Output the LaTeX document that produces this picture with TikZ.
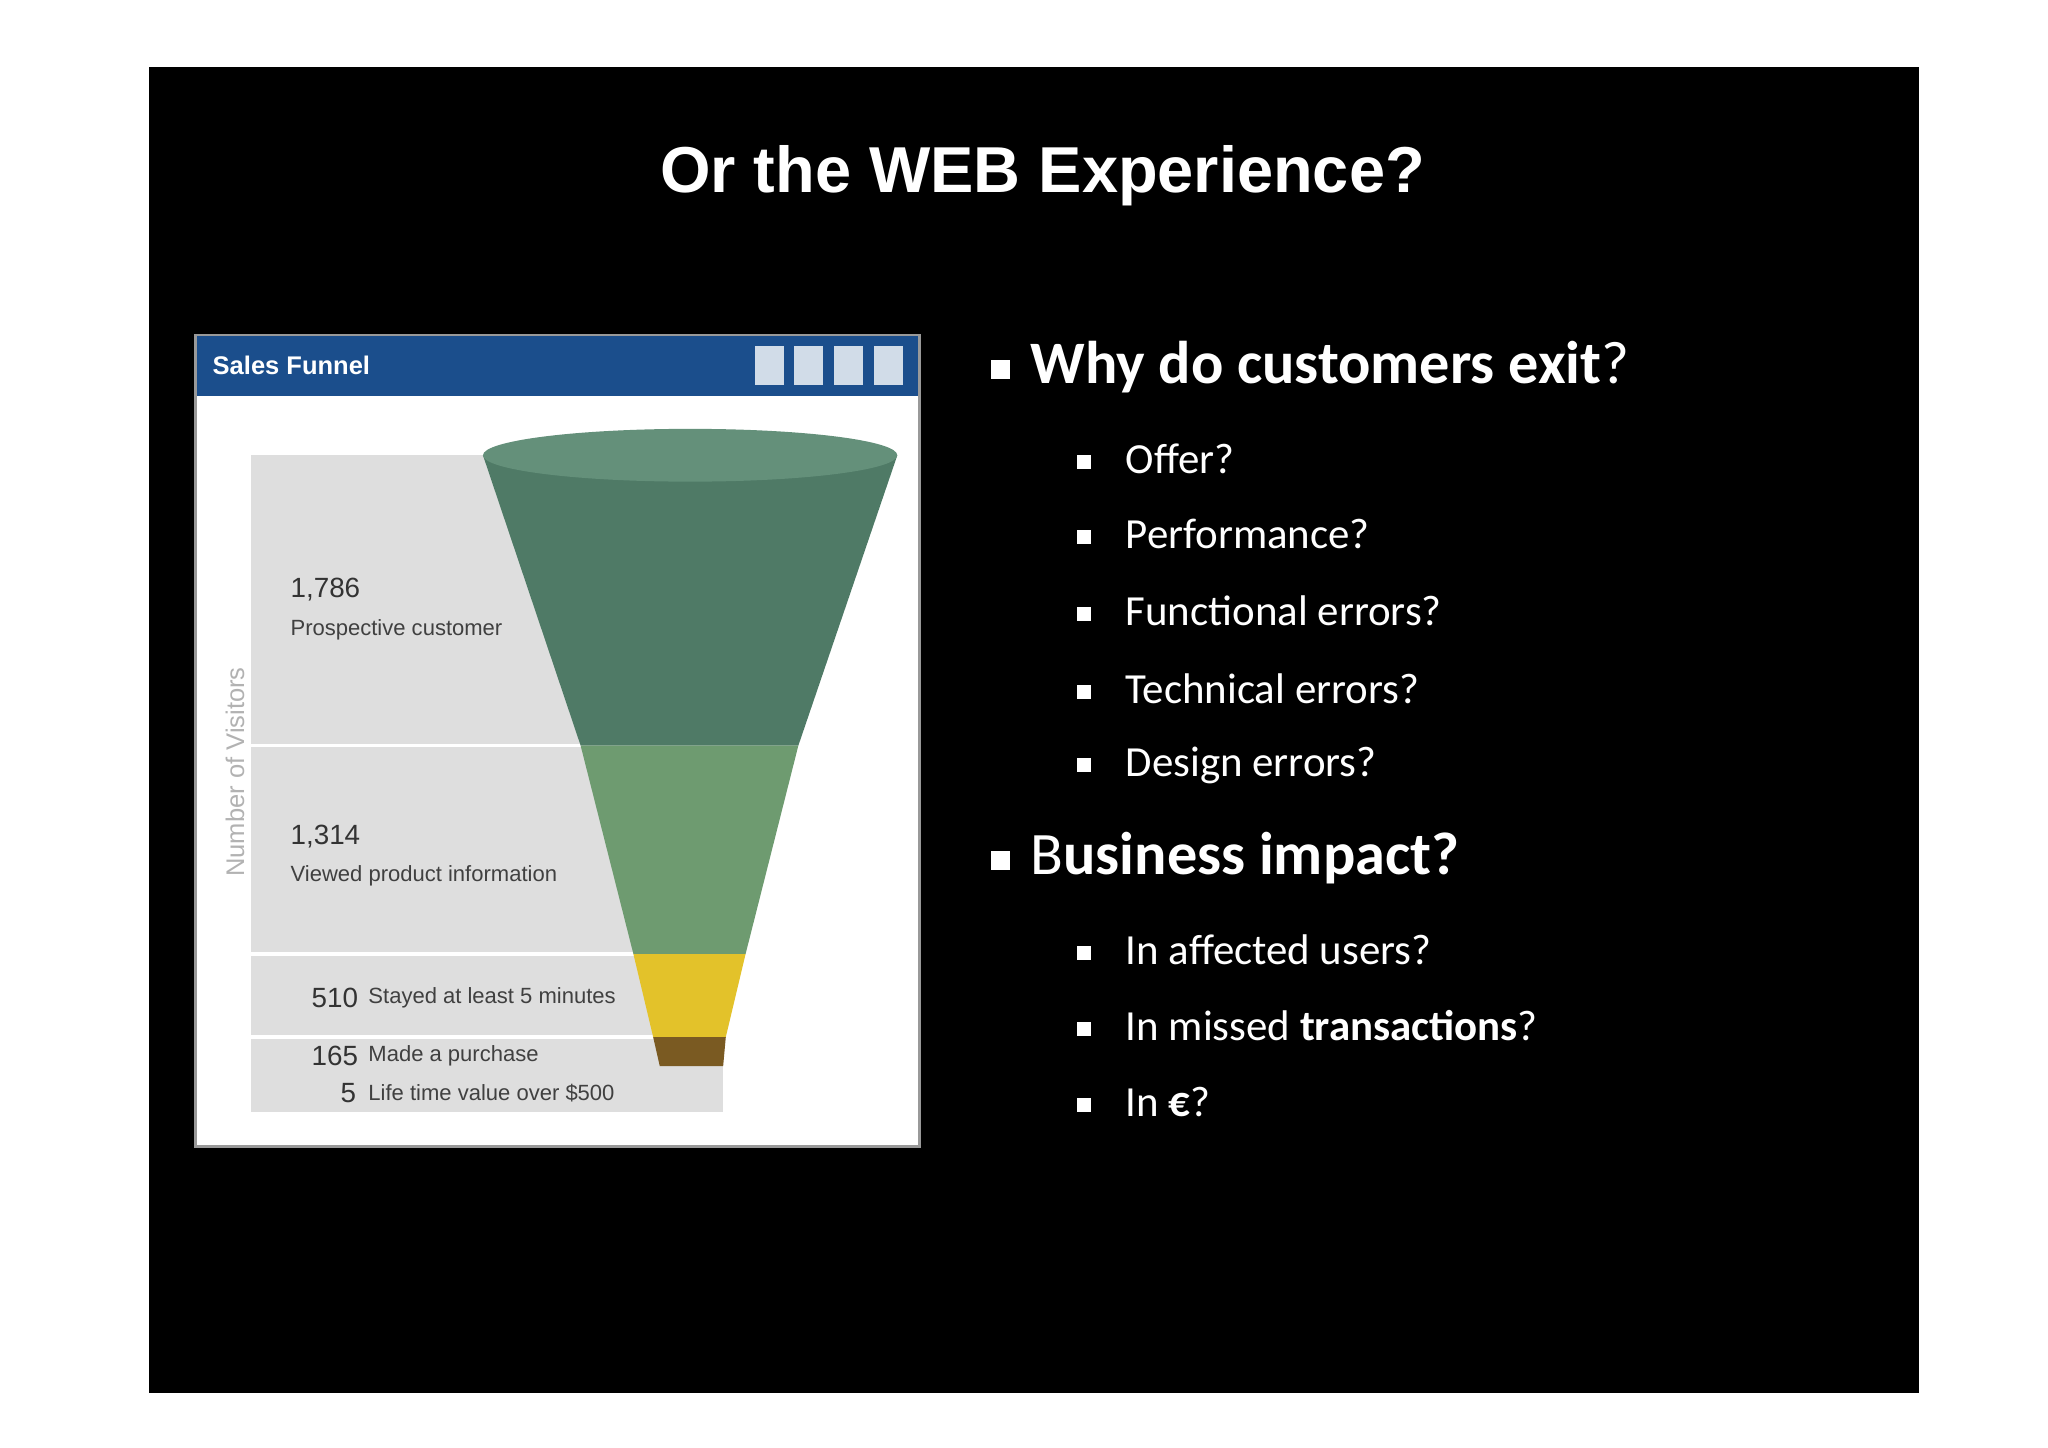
\documentclass[tikz,border=0pt]{standalone}
\usepackage{fontspec}
\setmainfont{Carlito}
\newfontfamily\arial{Liberation Sans}
\definecolor{hdrblue}{HTML}{1B4E8C}
\definecolor{ftop}{HTML}{4F7A66}
\definecolor{fell}{HTML}{64907A}
\definecolor{fmid}{HTML}{6E9B70}
\definecolor{fyel}{HTML}{E3C22A}
\definecolor{fbrn}{HTML}{7A5A22}
\begin{document}
\begin{tikzpicture}[x=0.02cm,y=-0.02cm,
  bul/.style={anchor=west,text=white,font=\fontsize{26}{30}\selectfont},
  sbul/.style={anchor=west,text=white,font=\fontsize{18.5}{22}\selectfont},
  lab/.style={anchor=west,text=black!75,font=\arial\fontsize{9.5}{11}\selectfont},
  num/.style={anchor=west,text=black!80,font=\arial\fontsize{12}{14}\selectfont}]
\useasboundingbox (0,0) rectangle (1552,1097);
\fill[white] (0,0) rectangle (1552,1097);
\fill[black] (113,51) rectangle (1454,1056);
\node[text=white,font=\arial\bfseries\fontsize{28}{32}\selectfont] (title) at (790,133) {Or the WEB Experience?};
% panel
\fill[black!40] (147,253) rectangle (698,870);
\fill[white] (149,255) rectangle (696,868);
\fill[hdrblue] (149,255) rectangle (696,300);
\node[anchor=west,text=white,font=\arial\bfseries\fontsize{11}{13}\selectfont] (hdr) at (155,277) {Sales Funnel};
\foreach \i in {0,1,2,3}{\fill[white!80!hdrblue] (572+\i*30,262) rectangle (594+\i*30,292);}
\fill[black!13] (190,345) rectangle (548,843);
\foreach \yy in {565,723,786}{\draw[white,line width=1.5] (190,\yy) -- (548,\yy);}
% funnel
\fill[ftop] (366,345) -- (440,565) -- (605,565) -- (680,345) -- cycle;
\fill[fmid] (440,565) -- (480,723) -- (565,723) -- (605,565) -- cycle;
\fill[fyel] (480,723) -- (495,786) -- (550,786) -- (565,723) -- cycle;
\fill[fbrn] (495,786) -- (500,808) -- (548,808) -- (550,786) -- cycle;
\fill[fell] (523,345) ellipse (157 and 20);
\node[lab,rotate=90,text=black!30,anchor=center,font=\arial\fontsize{11}{13}\selectfont] (axis) at (178,585) {Number of Visitors};
\node[num] (n1) at (214,447) {1,786};
\node[lab] (l1) at (214,477) {Prospective customer};
\node[num] (n2) at (214,634) {1,314};
\node[lab] (l2) at (214,664) {Viewed product information};
\node[num] (n3) at (230,756) {510};
\node[lab] (l3) at (273,756) {Stayed at least 5 minutes};
\node[num] (n4) at (230,800) {165};
\node[lab] (l4) at (273,800) {Made a purchase};
\node[num] (n5) at (252,828) {5};
\node[lab] (l5) at (273,828) {Life time value over \$500};
% bullets
\node[bul] (b1) at (745,278) {\raisebox{2pt}{\rule{8pt}{8pt}}\hspace{9pt}\textbf{Why do customers exit}?};
\node[sbul] (s1) at (810,348) {\raisebox{2pt}{\rule{6pt}{6pt}}\hspace{15pt}Offer?};
\node[sbul] (s2) at (810,405) {\raisebox{2pt}{\rule{6pt}{6pt}}\hspace{15pt}Performance?};
\node[sbul] (s3) at (810,463) {\raisebox{2pt}{\rule{6pt}{6pt}}\hspace{15pt}Functional errors?};
\node[sbul] (s4) at (810,522) {\raisebox{2pt}{\rule{6pt}{6pt}}\hspace{15pt}Technical errors?};
\node[sbul] (s5) at (810,580) {\raisebox{2pt}{\rule{6pt}{6pt}}\hspace{15pt}Design errors?};
\node[bul] (b2) at (745,650) {\raisebox{2pt}{\rule{8pt}{8pt}}\hspace{9pt}B\textbf{usiness impact?}};
\node[sbul] (s6) at (810,720) {\raisebox{2pt}{\rule{6pt}{6pt}}\hspace{15pt}In affected users?};
\node[sbul] (s7) at (810,777) {\raisebox{2pt}{\rule{6pt}{6pt}}\hspace{15pt}In missed \textbf{transactions}?};
\node[sbul] (s8) at (810,835) {\raisebox{2pt}{\rule{6pt}{6pt}}\hspace{15pt}In \textbf{€}?};
\end{tikzpicture}
\end{document}
